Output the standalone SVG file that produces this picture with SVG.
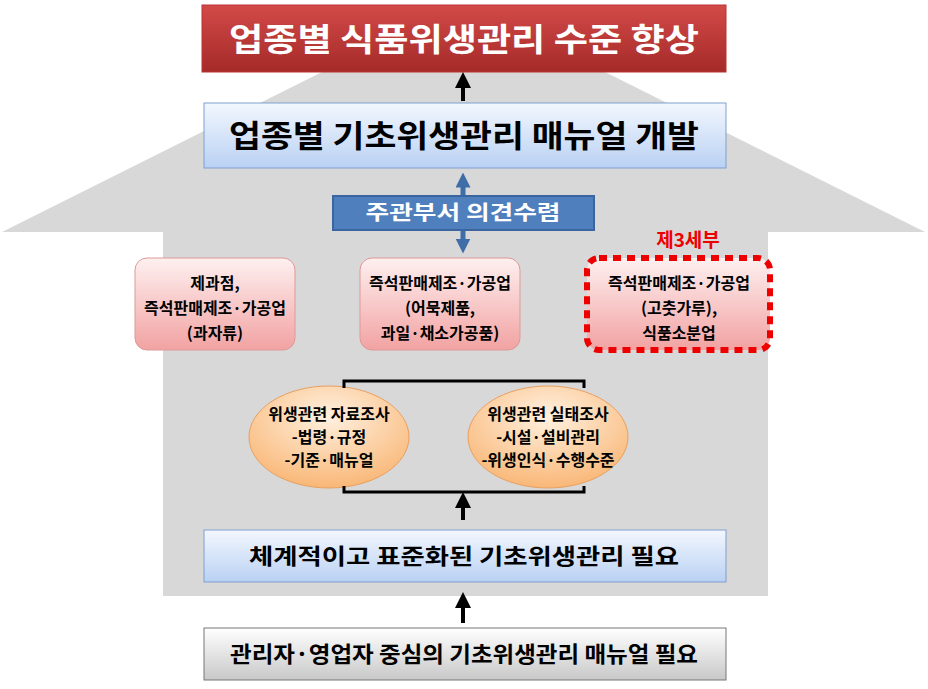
<svg xmlns="http://www.w3.org/2000/svg" width="928" height="689" viewBox="0 0 928 689">
<defs>
<linearGradient id="red" x1="0" y1="0" x2="0" y2="1"><stop offset="0" stop-color="#d24a48"/><stop offset="1" stop-color="#a52a28"/></linearGradient>
<linearGradient id="lb" x1="0" y1="0" x2="0" y2="1"><stop offset="0" stop-color="#f3f7fe"/><stop offset="1" stop-color="#b9d1f3"/></linearGradient>
<linearGradient id="pk" x1="0" y1="0" x2="0" y2="1"><stop offset="0" stop-color="#fef0f0"/><stop offset="1" stop-color="#f2a2a2"/></linearGradient>
<linearGradient id="gr" x1="0" y1="0" x2="0" y2="1"><stop offset="0" stop-color="#ffffff"/><stop offset="1" stop-color="#c8c8c8"/></linearGradient>
<radialGradient id="or" cx="0.5" cy="0.3" r="0.7"><stop offset="0" stop-color="#fff1e0"/><stop offset="1" stop-color="#f9b777"/></radialGradient>
<marker id="ah" viewBox="0 0 10 10" refX="5" refY="5" markerWidth="4" markerHeight="4" orient="auto"><path d="M0,0 L10,5 L0,10 z" fill="#000"/></marker>
<marker id="bh" viewBox="0 0 10 10" refX="5" refY="5" markerWidth="3" markerHeight="3" orient="auto-start-reverse"><path d="M0,0 L10,5 L0,10 z" fill="#3e6da8"/></marker>
</defs>
<style>
text{font-family:"Noto Sans CJK KR","Noto Sans",sans-serif;font-weight:bold;text-anchor:middle}
.t{font-size:16px;fill:#000}
</style>
<rect width="928" height="689" fill="#fff"/>
<polygon points="322,72 605,72 925,232 768,232 768,596 163,596 163,232 2,232" fill="#d8d8d8"/>
<g id="top"><rect x="202" y="5" width="524" height="67" fill="url(#red)" stroke="#b33" /><text x="464" y="51" font-size="32" fill="#fff" textLength="470" lengthAdjust="spacingAndGlyphs">업종별 식품위생관리 수준 향상</text></g>
<g id="dev"><rect x="204" y="103" width="522" height="65" fill="url(#lb)" stroke="#7f9fd0"/><text x="464" y="147" font-size="31" fill="#000" textLength="470" lengthAdjust="spacingAndGlyphs">업종별 기초위생관리 매뉴얼 개발</text></g>
<g id="p1"><rect x="135" y="258" width="160" height="92" rx="12" fill="url(#pk)" stroke="#d99"/><text class="t" x="215" y="289">제과점,</text><text class="t" x="215" y="314">즉석판매제조·가공업</text><text class="t" x="215" y="339">(과자류)</text></g>
<g id="p2"><rect x="360" y="258" width="160" height="92" rx="12" fill="url(#pk)" stroke="#d99"/><text class="t" x="440" y="289">즉석판매제조·가공업</text><text class="t" x="440" y="314">(어묵제품,</text><text class="t" x="440" y="339">과일·채소가공품)</text></g>
<g id="p3"><rect x="587" y="258" width="183" height="92" rx="12" fill="url(#pk)" stroke="#e00" stroke-width="6" stroke-dasharray="8,6"/><text class="t" x="679" y="289">즉석판매제조·가공업</text><text class="t" x="679" y="314">(고춧가루),</text><text class="t" x="679" y="339">식품소분업</text><text x="688" y="247" font-size="19" fill="#e00">제3세부</text></g>
<g id="e1"><ellipse cx="329" cy="437" rx="80" ry="51" fill="url(#or)" stroke="#e8a060"/><text class="t" x="329" y="420">위생관련 자료조사</text><text class="t" x="329" y="443">-법령·규정</text><text class="t" x="329" y="466">-기준·매뉴얼</text></g>
<g id="e2"><ellipse cx="548" cy="437" rx="80" ry="51" fill="url(#or)" stroke="#e8a060"/><text class="t" x="548" y="420">위생관련 실태조사</text><text class="t" x="548" y="443">-시설·설비관리</text><text class="t" x="548" y="466">-위생인식·수행수준</text></g>
<g id="need"><rect x="204" y="530" width="522" height="52" fill="url(#lb)" stroke="#7f9fd0"/><text x="464" y="564" font-size="22" fill="#000" textLength="430" lengthAdjust="spacingAndGlyphs">체계적이고 표준화된 기초위생관리 필요</text></g>
<g id="base"><rect x="204" y="628" width="522" height="52" fill="url(#gr)" stroke="#777"/><text x="464" y="662" font-size="22" fill="#000" textLength="468" lengthAdjust="spacingAndGlyphs">관리자·영업자 중심의 기초위생관리 매뉴얼 필요</text></g>
<g id="connectors" fill="none">
<path d="M344,388 V381 H584 V388" stroke="#000" stroke-width="3"/>
<path d="M344,486 V492 H584 V486" stroke="#000" stroke-width="3"/>
<line x1="463" y1="101" x2="463" y2="80" stroke="#000" stroke-width="4" marker-end="url(#ah)"/>
<line x1="463" y1="520" x2="463" y2="500" stroke="#000" stroke-width="4" marker-end="url(#ah)"/>
<line x1="463" y1="623" x2="463" y2="600" stroke="#000" stroke-width="4" marker-end="url(#ah)"/>
<line x1="463" y1="180" x2="463" y2="246" stroke="#3e6da8" stroke-width="5" marker-start="url(#bh)" marker-end="url(#bh)"/>
</g>
<g id="opinion"><rect x="333" y="196" width="261" height="34" fill="#4f7fbd" stroke="#3a659e" stroke-width="2"/><text x="463" y="220" font-size="20" fill="#fff" textLength="195" lengthAdjust="spacingAndGlyphs">주관부서 의견수렴</text></g>
</svg>
